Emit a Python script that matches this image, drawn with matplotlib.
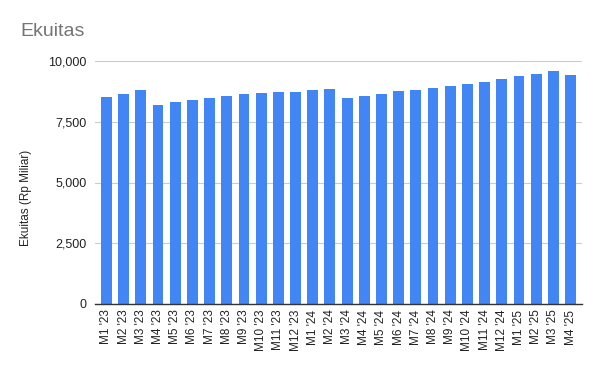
#!/usr/bin/env python3
import matplotlib
matplotlib.use("Agg")
import matplotlib.pyplot as plt
from matplotlib.ticker import FuncFormatter

months = [f"M{i} '23" for i in range(1, 13)] + \
         [f"M{i} '24" for i in range(1, 13)] + \
         [f"M{i} '25" for i in range(1, 5)]

ekuitas = [
    8510, 8640, 8790, 8190, 8300, 8380, 8465, 8550, 8640, 8670, 8710, 8710,
    8790, 8835, 8465, 8550, 8630, 8750, 8795, 8880, 8960, 9040, 9125, 9250,
    9370, 9455, 9575, 9410,
]

y_ticks = [0, 2500, 5000, 7500, 10000]

BAR_COLOR = "#4285F4"


def main():
    plt.rcParams["font.family"] = ["Liberation Sans", "DejaVu Sans"]

    fig = plt.figure(figsize=(6, 3.71), dpi=100)
    ax = fig.add_axes([95 / 600, 1 - 304 / 371, (582 - 95) / 600, (304 - 61) / 371])

    x = list(range(len(months)))
    ax.bar(x, ekuitas, width=0.63, color=BAR_COLOR, zorder=3)

    ax.set_xlim(-0.66, len(months) - 1 + 0.66)
    ax.set_ylim(0, 10000)
    ax.set_yticks(y_ticks)
    ax.yaxis.set_major_formatter(FuncFormatter(lambda v, p: f"{int(v):,}"))
    ax.set_xticks(x)
    ax.set_xticklabels(months, rotation=90, fontsize=8.5, color="#222222")
    ax.tick_params(axis="y", length=0, pad=6, labelsize=9, labelcolor="#222222")
    ax.tick_params(axis="x", length=0, pad=4)

    ax.grid(axis="y", color="#cccccc", linewidth=0.8, zorder=0)
    for side in ["top", "right", "left"]:
        ax.spines[side].set_visible(False)
    ax.spines["bottom"].set_color("#333333")
    ax.spines["bottom"].set_linewidth(1.0)
    ax.spines["bottom"].set_zorder(4)

    # y label sits a bit below the plot centre, as in the original
    fig.text(26 / 600, 1 - 198 / 371, "Ekuitas (Rp Miliar)", fontsize=8.5,
             color="#222222", rotation=90, ha="center", va="center")
    fig.text(20 / 600, 1 - 32 / 371, "Ekuitas", fontsize=14, color="#757575",
             va="center", ha="left")

    fig.savefig("out.png", dpi=100)
    plt.close(fig)


if __name__ == "__main__":
    main()
